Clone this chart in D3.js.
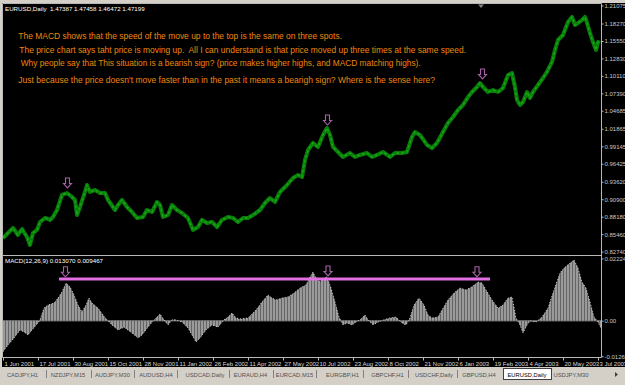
<!DOCTYPE html>
<html><head><meta charset="utf-8">
<script src="https://cdn.jsdelivr.net/npm/d3@7"></script>
<style>html,body{margin:0;padding:0;background:#d4d0c8;overflow:hidden}svg{display:block}</style>
</head><body>
<svg id="c" width="625" height="385"></svg>
<script>
// ---------------- data ----------------
const symbolHeader = "EURUSD,Daily  1.47387 1.47458 1.46472 1.47199";
const macdHeader = "MACD(12,26,9) 0.013070 0.009467";

const priceBars = [0,10,15,19,24,27,30,34,37,42,47,50,54,59,64,69,72,74,77,82,84,87,92,97,102,105,112,115,119,124,129,134,140,144,149,154,157,160,165,169,174,179,185,190,195,199,204,209,214,219,225,230,235,240,245,250,257,262,267,272,277,284,290,295,299,302,305,310,315,320,324,327,330,335,340,347,352,357,364,369,374,380,387,392,399,404,409,412,417,424,429,434,440,445,450,455,460,465,469,474,477,480,485,490,495,500,505,509,512,514,517,520,524,527,530,535,540,544,549,552,555,560,565,569,572,575,579,582,584,587,590,593,595,597];
const priceClose = [0.8486,0.8642,0.8533,0.8626,0.8502,0.8377,0.8564,0.8611,0.8735,0.8798,0.8767,0.8813,0.8922,0.9156,0.9187,0.9125,0.9078,0.8844,0.8969,0.9203,0.9312,0.9203,0.9234,0.9187,0.9187,0.9078,0.8922,0.9000,0.9078,0.8969,0.8891,0.8798,0.8813,0.8922,0.8891,0.9047,0.9000,0.8813,0.8844,0.9000,0.8922,0.8875,0.8798,0.8611,0.8657,0.8767,0.8720,0.8735,0.8657,0.8767,0.8813,0.8798,0.8735,0.8798,0.8798,0.8844,0.8922,0.9031,0.9109,0.9047,0.9203,0.9312,0.9421,0.9467,0.9436,0.9701,0.9857,0.9966,0.9904,1.0090,1.0199,1.0090,0.9904,0.9826,0.9748,0.9810,0.9748,0.9779,0.9810,0.9748,0.9779,0.9826,0.9748,0.9810,0.9810,0.9826,1.0059,1.0137,1.0090,0.9935,0.9888,0.9966,1.0137,1.0277,1.0371,1.0480,1.0558,1.0682,1.0760,1.0838,1.0900,1.0838,1.0760,1.0791,1.0760,1.0823,1.1025,1.1056,1.0838,1.0636,1.0558,1.0604,1.0760,1.0667,1.0760,1.0869,1.0978,1.1072,1.1228,1.1415,1.1570,1.1648,1.1851,1.1929,1.1804,1.1835,1.1882,1.1929,1.1835,1.1679,1.1539,1.1415,1.1539,1.1524];

const macdBars = [0,5,11,17,21,25,29,35,37,41,45,51,55,59,63,67,71,75,79,83,86,89,95,100,104,109,115,121,129,135,139,145,149,153,157,161,165,169,173,179,185,189,193,197,203,209,215,221,225,229,233,237,245,253,259,265,269,273,279,285,291,297,303,307,310,313,317,321,324,328,332,336,340,344,349,353,357,362,365,370,375,381,387,393,399,403,407,411,416,421,425,429,435,439,445,451,457,463,469,475,479,483,489,495,500,505,509,513,517,520,524,527,533,539,545,551,557,561,567,571,575,579,583,587,591,595,598];
const macdValues = [-0.0111,-0.0087,-0.0062,-0.0033,-0.0040,-0.0051,-0.0033,-0.0008,0.0003,0.0045,0.0056,0.0063,0.0081,0.0103,0.0135,0.0121,0.0092,0.0056,0.0031,0.0056,0.0081,0.0063,0.0045,0.0020,0.0003,-0.0015,-0.0033,-0.0023,-0.0044,-0.0062,-0.0051,-0.0023,-0.0005,0.0010,0.0024,0.0003,-0.0015,0.0003,0.0003,-0.0005,-0.0026,-0.0051,-0.0076,-0.0062,-0.0033,-0.0015,-0.0023,0.0003,0.0013,0.0028,0.0010,0.0006,0.0010,0.0038,0.0067,0.0092,0.0081,0.0074,0.0081,0.0085,0.0099,0.0117,0.0128,0.0156,0.0174,0.0153,0.0138,0.0153,0.0156,0.0117,0.0067,0.0013,-0.0015,-0.0008,-0.0015,-0.0005,0.0003,0.0020,0.0003,-0.0015,-0.0005,0.0003,0.0010,0.0013,-0.0008,-0.0015,0.0010,0.0056,0.0081,0.0056,0.0020,0.0010,0.0013,0.0038,0.0074,0.0099,0.0117,0.0110,0.0121,0.0138,0.0135,0.0110,0.0074,0.0045,0.0056,0.0081,0.0085,0.0010,-0.0015,-0.0044,-0.0015,-0.0001,-0.0005,0.0013,0.0045,0.0110,0.0171,0.0188,0.0206,0.0217,0.0188,0.0138,0.0117,0.0067,0.0013,-0.0005,-0.0026];

const priceTicks = [1.21075,1.18270,1.15550,1.12830,1.10110,1.07390,1.04685,1.01865,0.99145,0.96425,0.93620,0.90900,0.88180,0.85460,0.82740];
const macdTicks = [0.02224, 0, -0.01269];
const macdTickLabels = ["0.02224", "0.00", "-0.01269"];

const dateLabels = ["1 Jun 2001","17 Jul 2001","30 Aug 2001","15 Oct 2001","28 Nov 2001","11 Jan 2002","26 Feb 2002","11 Apr 2002","27 May 2002","10 Jul 2002","23 Aug 2002","8 Oct 2002","21 Nov 2002","6 Jan 2003","19 Feb 2003","4 Apr 2003","20 May 2003","3 Jul 2003"];
const dateBars = [0,35,70,105,140,175,210,245,280,315,350,385,420,455,490,525,560,595];

const notes = [
  "The MACD shows that the speed of the move up to the top is the same on three spots.",
  "The price chart says taht price is moving up.  All I can understand is that price moved up three times at the same speed.",
  "Why people say that This situation is a bearish sign? (price makes higher highs, and MACD matching highs).",
  "Just because the price doesn't move faster than in the past it means a bearigh sign? Where is the sense here?"
];

const priceArrowBars = [64.5, 324.5, 479.5];
const priceArrowValues = [0.9265, 1.0246, 1.0963];
const macdArrowBars = [62.5, 325, 474];
const macdArrowValues = [0.0157, 0.0160, 0.0157];
const levelBars = [56, 487];
const levelValue = 0.0149;

const tabs = ["CADJPY,H1","NZDJPY,M15","AUDJPY,M30","AUDUSD,H4","USDCAD,Daily","EURAUD,H4","EURCAD,M15","EURGBP,H1","GBPCHF,H1","USDCHF,Daily","GBPUSD,H4","EURUSD,Daily","USDJPY,M30"];
const activeTab = "EURUSD,Daily";

// ---------------- layout ----------------
const svg = d3.select("#c");
const FONT = "Liberation Sans, Arial, sans-serif";
const x = d3.scaleLinear().domain([0, 598]).range([3, 601]);
const yP = d3.scaleLinear().domain([0.82740, 1.21075]).range([251.6, 5.5]);
const yM = d3.scaleLinear().domain([-0.01269, 0.02224]).range([356.2, 258.5]);

const defs = svg.append("defs");
defs.append("clipPath").attr("id","cpMain").append("rect").attr("x",3).attr("y",4).attr("width",598).attr("height",250);
defs.append("clipPath").attr("id","cpMacd").append("rect").attr("x",3).attr("y",256.5).attr("width",598).attr("height",100.5);
const pat = defs.append("pattern").attr("id","hist").attr("patternUnits","userSpaceOnUse").attr("width",3).attr("height",4);
pat.append("rect").attr("x",0).attr("y",0).attr("width",2).attr("height",4).attr("fill","#9a9a9a");
pat.append("rect").attr("x",2).attr("y",0).attr("width",1).attr("height",4).attr("fill","#646464");

// backgrounds
svg.append("rect").attr("x",0).attr("y",0).attr("width",625).attr("height",385).attr("fill","#d4d0c8");
svg.append("rect").attr("x",2).attr("y",3).attr("width",623).attr("height",364).attr("fill","#000");
const frame = svg.append("g").attr("stroke","#b8b8b8").attr("stroke-width",1).attr("fill","none");
frame.append("path").attr("d","M2.5,3.5H601.5V357.5H2.5Z");
frame.append("path").attr("d","M2.5,255.5H601.5");

// ---------- main price panel ----------
const gMain = svg.append("g").attr("clip-path","url(#cpMain)");
const pts = priceBars.map((b,i)=>[b, priceClose[i]]);
const line = d3.line().x(d=>x(d[0])).y(d=>yP(d[1]));
gMain.append("path").attr("d",line(pts)).attr("fill","none").attr("stroke","#087e08").attr("stroke-width",4).attr("stroke-linejoin","round");
gMain.append("path").attr("d",line(pts)).attr("fill","none").attr("stroke","#19a619").attr("stroke-width",1.4).attr("stroke-dasharray","3,2").attr("stroke-linejoin","round");

svg.append("path").attr("d","M478,4.5L484,4.5L481,8Z").attr("fill","#808080");

svg.append("text").attr("x",5).attr("y",10.5).attr("fill","#fff").attr("font-family",FONT).attr("font-size",6.2).style("white-space","pre").text(symbolHeader);

// notes
const noteX = [18.3, 19.3, 20.7, 18.3];
const noteY = [39.1, 53.1, 66.1, 82.7];
const noteW = [323.7, 446.7, 400, 416.7];
svg.append("g").selectAll("text").data(notes).join("text")
  .attr("x",(d,i)=>noteX[i]).attr("y",(d,i)=>noteY[i])
  .attr("fill","#ee870c").attr("font-family",FONT).attr("font-size",9.4)
  .attr("textLength",(d,i)=>noteW[i]).attr("lengthAdjust","spacingAndGlyphs")
  .style("white-space","pre").text(d=>d);

const arrowPath = "M0,0L-4,-4.5L-2,-4.5L-2,-10L2,-10L2,-4.5L4,-4.5Z";
svg.append("g").selectAll("path").data(priceArrowBars).join("path")
  .attr("transform",(d,i)=>`translate(${x(d)},${yP(priceArrowValues[i])})`)
  .attr("d",arrowPath).attr("fill","none").attr("stroke","#a860a8").attr("stroke-width",1.1);

const axP = svg.append("g").attr("transform","translate(601.5,0)")
  .call(d3.axisRight(yP).tickValues(priceTicks).tickFormat(d3.format(".5f")).tickSize(2).tickPadding(1));
axP.select(".domain").remove();
axP.selectAll("line").attr("stroke","#b8b8b8");
axP.selectAll("text").attr("fill","#c8c8c8").attr("font-family",FONT).attr("font-size",6);

// ---------- MACD panel ----------
const gM = svg.append("g").attr("clip-path","url(#cpMacd)");
const mpts = macdBars.map((b,i)=>[b, macdValues[i]]);
gM.append("line").attr("x1",3).attr("x2",601).attr("y1",yM(0)).attr("y2",yM(0)).attr("stroke","#5a5a5a").attr("stroke-width",1.5);
const area = d3.area().x(d=>x(d[0])).y0(yM(0)).y1(d=>yM(d[1]));
gM.append("path").attr("d",area(mpts)).attr("fill","url(#hist)");
gM.append("path").attr("d",d3.line().x(d=>x(d[0])).y(d=>yM(d[1]))(mpts)).attr("fill","none")
  .attr("stroke","#d0d0d0").attr("stroke-width",1).attr("stroke-dasharray","1,2");

gM.append("line").attr("x1",x(levelBars[0])).attr("x2",x(levelBars[1])).attr("y1",yM(levelValue)).attr("y2",yM(levelValue))
  .attr("stroke","#e46ee4").attr("stroke-width",3);
svg.append("g").selectAll("path").data(macdArrowBars).join("path")
  .attr("transform",(d,i)=>`translate(${x(d)},${yM(macdArrowValues[i])})`)
  .attr("d",arrowPath).attr("fill","none").attr("stroke","#a860a8").attr("stroke-width",1.1);

svg.append("text").attr("x",5).attr("y",262.5).attr("fill","#fff").attr("font-family",FONT).attr("font-size",6.2).text(macdHeader);

const axM = svg.append("g").attr("transform","translate(601.5,0)")
  .call(d3.axisRight(yM).tickValues(macdTicks).tickFormat((d,i)=>macdTickLabels[i]).tickSize(2).tickPadding(1));
axM.select(".domain").remove();
axM.selectAll("line").attr("stroke","#b8b8b8");
axM.selectAll("text").attr("fill","#c8c8c8").attr("font-family",FONT).attr("font-size",6);

// ---------- date axis ----------
const axD = svg.append("g").attr("transform","translate(0,357.5)")
  .call(d3.axisBottom(x).tickValues(dateBars).tickFormat((d,i)=>dateLabels[i]).tickSize(3).tickPadding(1));
axD.select(".domain").remove();
axD.selectAll("line").attr("stroke","#b8b8b8");
axD.selectAll("text").attr("fill","#d8d8d8").attr("font-family",FONT).attr("font-size",6)
  .attr("text-anchor","start").attr("dx",1).attr("dy","0.75em");

// ---------- tabs ----------
const tabCenters = [22.5,68,112.5,156,205,250.5,294.5,342.5,387.5,434,479,527,571];
const sepX = [46,91,134,177,229,273,316,363,408,457];
const gT = svg.append("g");
sepX.forEach(s=>gT.append("line").attr("x1",s+0.5).attr("x2",s+0.5).attr("y1",370).attr("y2",378).attr("stroke","#808080"));
gT.append("rect").attr("x",503.5).attr("y",368.5).attr("width",48).attr("height",11).attr("fill","#fff").attr("stroke","#404040");
gT.selectAll("text.tab").data(tabs).join("text").attr("class","tab")
  .attr("x",(d,i)=>tabCenters[i]).attr("y",376.5).attr("text-anchor","middle")
  .attr("font-family",FONT).attr("font-size",5.8)
  .attr("fill",d=>d===activeTab?"#000":"#505050").text(d=>d);
gT.append("path").attr("d","M615,372L618,374.5L615,377Z").attr("fill","#404040");
</script>
</body></html>
